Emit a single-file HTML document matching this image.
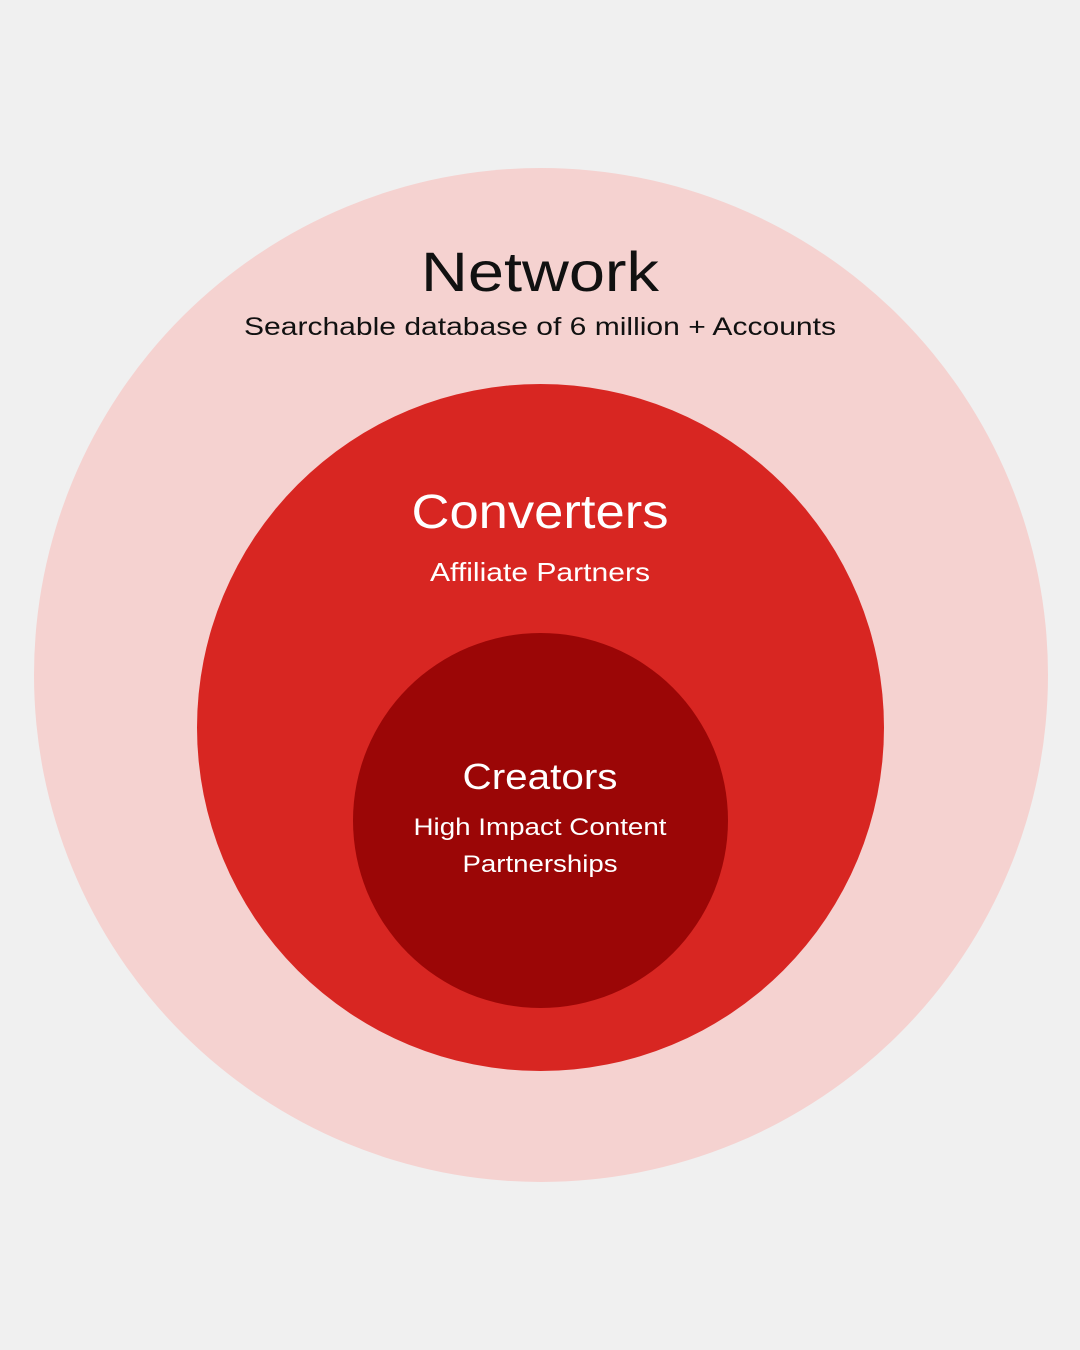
<!DOCTYPE html>
<html><head><meta charset="utf-8"><style>
html,body{margin:0;padding:0;background:#f0f0f0;}
svg{display:block;}
text{font-family:"Liberation Sans",sans-serif;text-anchor:middle;}
</style></head><body>
<svg width="1080" height="1350" viewBox="0 0 1080 1350" xmlns="http://www.w3.org/2000/svg">
<rect width="1080" height="1350" fill="#f0f0f0"/>
<circle cx="541" cy="675" r="507" fill="#f5d2d0"/>
<circle cx="540.5" cy="727.5" r="343.5" fill="#d82622"/>
<circle cx="540.5" cy="820.5" r="187.5" fill="#9b0606"/>
<text x="540" y="291" font-size="56" fill="#111" textLength="238" lengthAdjust="spacingAndGlyphs">Network</text>
<text x="540" y="335" font-size="25" fill="#111" textLength="592" lengthAdjust="spacingAndGlyphs">Searchable database of 6 million + Accounts</text>
<text x="540" y="528" font-size="48" fill="#fff" textLength="257" lengthAdjust="spacingAndGlyphs">Converters</text>
<text x="540" y="581" font-size="26" fill="#fff" textLength="220" lengthAdjust="spacingAndGlyphs">Affiliate Partners</text>
<text x="540" y="789" font-size="36" fill="#fff" textLength="155" lengthAdjust="spacingAndGlyphs">Creators</text>
<text x="540" y="835" font-size="24" fill="#fff" textLength="253" lengthAdjust="spacingAndGlyphs">High Impact Content</text>
<text x="540" y="872" font-size="24" fill="#fff" textLength="155" lengthAdjust="spacingAndGlyphs">Partnerships</text>
</svg>
</body></html>
